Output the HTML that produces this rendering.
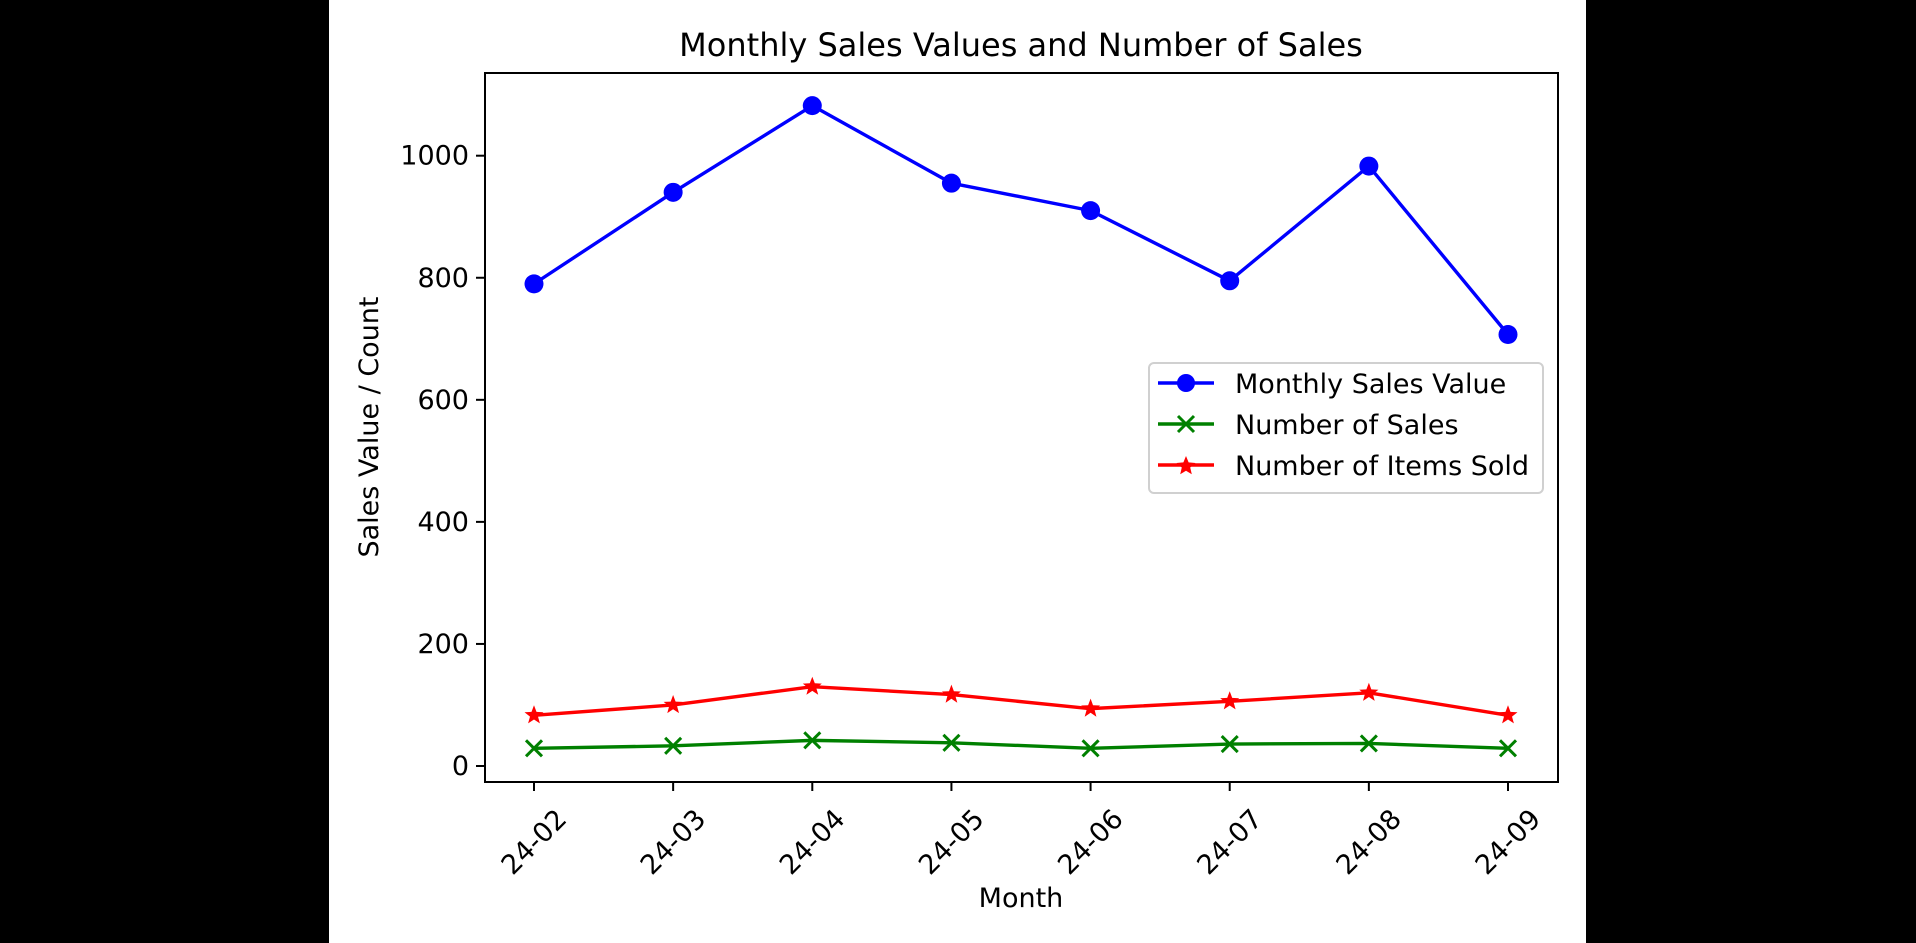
<!DOCTYPE html>
<html><head><meta charset="utf-8"><style>
html,body{margin:0;padding:0;background:#000;}
svg{display:block;font-family:"DejaVu Sans","Liberation Sans",sans-serif;}
</style></head><body>
<svg id="chart" width="1916" height="943" xmlns="http://www.w3.org/2000/svg">
<rect x="329" y="0" width="1257" height="943" fill="#fff"/>
<text x="1021" y="56" font-size="32" text-anchor="middle" fill="#000">Monthly Sales Values and Number of Sales</text>
<g id="plot"></g>
<text x="1021" y="907" font-size="27" text-anchor="middle" fill="#000">Month</text>
<text x="378" y="427" font-size="27" text-anchor="middle" fill="#000" transform="rotate(-90 378 427)">Sales Value / Count</text>
<g>
<rect x="1149" y="363" width="394" height="130" rx="5" fill="#fff" stroke="#d0d0d0" stroke-width="2"/>
<g>
<line x1="1158" y1="383" x2="1214" y2="383" stroke="#0000ff" stroke-width="3.4"/><circle cx="1186" cy="383" r="9" fill="#0000ff"/>
<text x="1235" y="393" font-size="27" fill="#000">Monthly Sales Value</text></g>
<g>
<line x1="1158" y1="424" x2="1214" y2="424" stroke="#008000" stroke-width="3.4"/><path d="M1178 416 L1194 432 M1194 416 L1178 432" stroke="#008000" stroke-width="3"/>
<text x="1235" y="434" font-size="27" fill="#000">Number of Sales</text></g>
<g>
<line x1="1158" y1="465" x2="1214" y2="465" stroke="#ff0000" stroke-width="3.4"/><polygon points="1186,456 1188.6,462.4 1195.5,463 1190.2,467.5 1191.8,474.3 1186,470.7 1180.2,474.3 1181.8,467.5 1176.5,463 1183.4,462.4" fill="#ff0000"/>
<text x="1235" y="475" font-size="27" fill="#000">Number of Items Sold</text></g>
</g>
</svg>
<script>
const categories = ["24-02","24-03","24-04","24-05","24-06","24-07","24-08","24-09"];
const salesValue = [790, 940, 1082, 955, 910, 795, 983, 707];
const numSales = [29, 33, 42, 38, 29, 36, 37, 29];
const itemsSold = [83, 100, 130, 117, 94, 106, 120, 83];
const yTicks = [0, 200, 400, 600, 800, 1000];

const NS = "http://www.w3.org/2000/svg";
const L = 485, R = 1558, T = 73, B = 782;
const x0 = 534, xStep = (1508 - 534) / 7;
function xs(i){ return x0 + i * xStep; }
function ys(v){ return 766 - v * 0.6103; }
const g = document.getElementById('plot');
function mk(tag, attrs){ const e = document.createElementNS(NS, tag); for (const k in attrs) e.setAttribute(k, attrs[k]); g.appendChild(e); return e; }

yTicks.forEach(v => {
  const t = mk('line', {x1: L - 9, x2: L, y1: ys(v), y2: ys(v), stroke: '#000', 'stroke-width': 2});
  
  
  const l = mk('text', {x: L - 16, y: ys(v) + 9, 'font-size': 27, 'text-anchor': 'end', fill: '#000'});
  l.textContent = v;
  
  
});
categories.forEach((c, i) => {
  const t = mk('line', {x1: xs(i), x2: xs(i), y1: B, y2: B + 9, stroke: '#000', 'stroke-width': 2});
  
  
  const l = mk('text', {x: xs(i), y: 851, 'font-size': 27, 'text-anchor': 'middle', fill: '#000', transform: `rotate(-45 ${xs(i)} 842)`});
  l.textContent = c;
  
  
});

function series(vals, color, name, marker){
  const pts = vals.map((v, i) => xs(i) + ',' + ys(v)).join(' ');
  const pl = mk('polyline', {points: pts, fill: 'none', stroke: color, 'stroke-width': 3.4, 'stroke-linejoin': 'round'});
  
  
  vals.forEach((v, i) => {
    const cx = xs(i), cy = ys(v);
    let m;
    if (marker === 'o') m = mk('circle', {cx: cx, cy: cy, r: 9.5, fill: color});
    else if (marker === 'x') m = mk('path', {d: `M${cx-8} ${cy-8} L${cx+8} ${cy+8} M${cx+8} ${cy-8} L${cx-8} ${cy+8}`, stroke: color, 'stroke-width': 3});
    else {
      const p = [];
      for (let k = 0; k < 10; k++) { const a = -Math.PI/2 + k*Math.PI/5; const r = k % 2 ? 4.2 : 10; p.push((cx + r*Math.cos(a)).toFixed(1) + ',' + (cy + r*Math.sin(a)).toFixed(1)); }
      m = mk('polygon', {points: p.join(' '), fill: color});
    }
    
    
  });
}
series(salesValue, '#0000ff', 'sales-value', 'o');
series(numSales, '#008000', 'number-of-sales', 'x');
series(itemsSold, '#ff0000', 'items-sold', '*');

const fr = mk('rect', {x: L, y: T, width: R - L, height: B - T, fill: 'none', stroke: '#000', 'stroke-width': 2});


</script>
</body></html>
